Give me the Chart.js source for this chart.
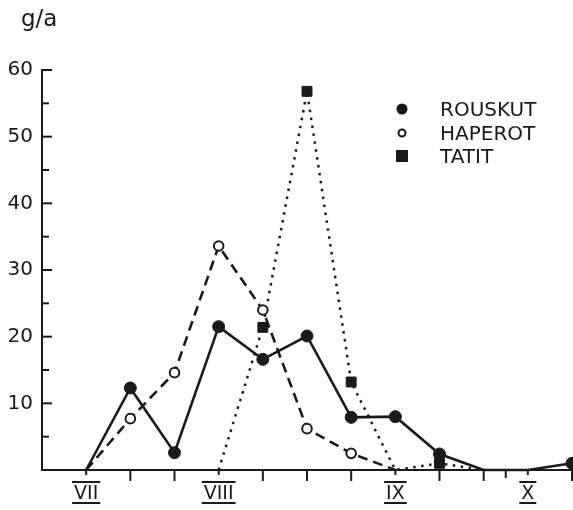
<!DOCTYPE html>
<html lang="fi">
<head>
<meta charset="UTF-8">
<title>g/a</title>
<script src="https://cdn.jsdelivr.net/npm/chart.js"></script>
<style>
  body { margin: 0; background: #fff; }
  #wrap { width: 573px; height: 510px; position: relative; }
</style>
</head>
<body>
<div id="wrap"><canvas id="chart"></canvas></div>
<script>
  // ten-day periods, month numerals on the axis
  const periods = ['VII', '', '', 'VIII', '', '', '', 'IX', '', '', 'X', ''];
  const rouskut = [0, 12.3, 2.6, 21.5, 16.6, 20.1, 7.9, 8, 2.4, 0, 0, 1];
  const haperot = [0, 7.7, 14.6, 33.6, 24.0, 6.2, 2.5, 0, null, null, null, null];
  const tatit   = [null, null, null, 0, 21.4, 56.8, 13.2, 0, 1, 0, null, null];
  const yLabels = [10, 20, 30, 40, 50, 60];
  const xTicks  = [0, 1, 2, 3, 4, 5, 6, 7, 8, 9, 9.5, 10, 11];

  const INK = '#1a1a1a';
  const FONT = 'DejaVu Sans';

  function toPoints(vals) {
    return vals.map((v, i) => v === null ? null : { x: i, y: v }).filter(p => p);
  }

  // no markers where the value is zero, like the original
  const radiusFor = r => c => (c.raw && c.raw.y === 0) ? 0 : r;

  const paper = {
    id: 'paper',
    afterDraw(chart) {
      const ctx = chart.ctx;
      const xs = chart.scales.x, ys = chart.scales.y;
      ctx.save();
      ctx.strokeStyle = INK;
      ctx.fillStyle = INK;
      ctx.lineWidth = 2;

      // inward ticks on y axis
      for (let v = 5; v <= 60; v += 5) {
        const py = ys.getPixelForValue(v);
        ctx.beginPath();
        ctx.moveTo(xs.left, py);
        ctx.lineTo(xs.left + (v % 10 ? 7 : 10), py);
        ctx.stroke();
      }

      // ticks under x axis, shorter at the month numerals
      xTicks.forEach(v => {
        const px = xs.getPixelForValue(v);
        const len = periods[v] ? 5 : (v % 1 ? 8 : 11);
        ctx.beginPath();
        ctx.moveTo(px, ys.bottom);
        ctx.lineTo(px, ys.bottom + len);
        ctx.stroke();
      });

      // over- and underline on month numerals
      ctx.font = '19px "' + FONT + '"';
      periods.forEach((lab, i) => {
        if (!lab) return;
        const px = xs.getPixelForValue(i);
        const w = ctx.measureText(lab).width + 4;
        ctx.beginPath();
        ctx.moveTo(px - w / 2, 482); ctx.lineTo(px + w / 2, 482);
        ctx.moveTo(px - w / 2, 503); ctx.lineTo(px + w / 2, 503);
        ctx.stroke();
      });

      // unit
      ctx.font = '23px "' + FONT + '"';
      ctx.textBaseline = 'alphabetic';
      ctx.fillText('g/a', 21, 26);

      // legend
      const rows = [109, 133, 156];
      chart.data.datasets.forEach((ds, i) => {
        const y = rows[i];
        ctx.lineWidth = 2;
        ctx.strokeStyle = INK;
        ctx.fillStyle = ds.pointBackgroundColor;
        ctx.beginPath();
        if (ds.pointStyle === 'rect') {
          ctx.rect(402 - 5, y - 5, 10, 10);
        } else {
          ctx.arc(402, y, ds.legendRadius, 0, Math.PI * 2);
        }
        ctx.fill();
        ctx.stroke();
        ctx.fillStyle = INK;
        ctx.font = '20px "' + FONT + '"';
        ctx.textBaseline = 'middle';
        ctx.fillText(ds.label, 440, y + 2);
      });
      ctx.restore();
    }
  };

  new Chart(document.getElementById('chart'), {
    type: 'line',
    data: {
      datasets: [
        {
          label: 'ROUSKUT',
          data: toPoints(rouskut),
          borderColor: INK,
          borderWidth: 2.6,
          pointStyle: 'circle',
          pointBackgroundColor: INK,
          pointBorderColor: INK,
          pointBorderWidth: 1,
          pointRadius: radiusFor(6),
          legendRadius: 4.5,
          clip: false
        },
        {
          label: 'HAPEROT',
          data: toPoints(haperot),
          borderColor: INK,
          borderWidth: 2.6,
          borderDash: [10, 6],
          pointStyle: 'circle',
          pointBackgroundColor: '#ffffff',
          pointBorderColor: INK,
          pointBorderWidth: 2,
          pointRadius: radiusFor(4.8),
          legendRadius: 3.5,
          clip: false
        },
        {
          label: 'TATIT',
          data: toPoints(tatit),
          borderColor: INK,
          borderWidth: 2.5,
          borderDash: [2.5, 5.5],
          pointStyle: 'rect',
          pointBackgroundColor: INK,
          pointBorderColor: INK,
          pointBorderWidth: 1,
          pointRadius: radiusFor(7),
          legendRadius: 5,
          clip: false
        }
      ]
    },
    options: {
      responsive: true,
      maintainAspectRatio: false,
      animation: false,
      layout: { autoPadding: false, padding: { top: 70, right: 1, left: 0, bottom: 0 } },
      plugins: { legend: { display: false }, tooltip: { enabled: false } },
      elements: { line: { tension: 0 } },
      scales: {
        x: {
          type: 'linear',
          min: -1,
          max: 11,
          afterBuildTicks: s => {
            s.ticks = xTicks.map(v => ({ value: v }));
          },
          afterFit: s => {
            s.height = 40;
            s.paddingLeft = 0;
            s.paddingRight = 0;
          },
          grid: { drawOnChartArea: false, drawTicks: false },
          border: { display: true, color: INK, width: 2 },
          ticks: {
            autoSkip: false,
            maxRotation: 0,
            padding: 13,
            color: INK,
            font: { family: FONT, size: 19 },
            callback: v => periods[v] || ''
          }
        },
        y: {
          min: 0,
          max: 60,
          afterBuildTicks: s => {
            s.ticks = yLabels.map(v => ({ value: v }));
          },
          afterFit: s => { s.width = 42; },
          grid: { drawOnChartArea: false, drawTicks: false },
          border: { display: true, color: INK, width: 2 },
          ticks: {
            padding: 9,
            color: INK,
            font: { family: FONT, size: 20 },
            callback: v => String(v)
          }
        }
      }
    },
    plugins: [paper]
  });
</script>
</body>
</html>
